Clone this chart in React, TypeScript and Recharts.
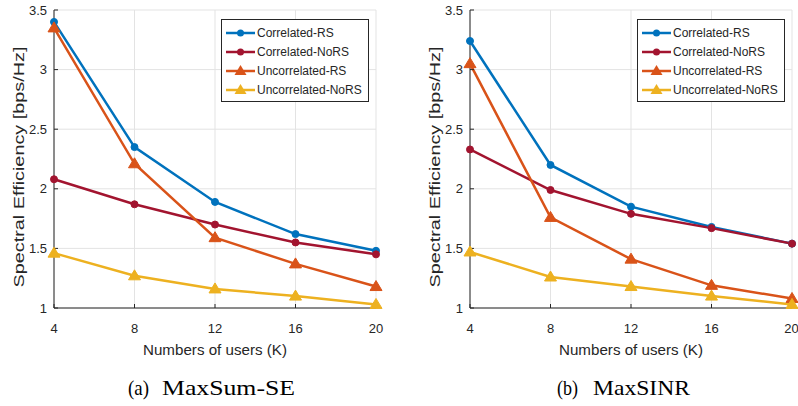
import React from 'react';
import { LineChart, Line, XAxis, YAxis, CartesianGrid } from 'recharts';

const users = [4, 8, 12, 16, 20];
const yTicks = [1, 1.5, 2, 2.5, 3, 3.5];

// (a) MaxSum-SE
const sumCorrRS = [3.4, 2.35, 1.89, 1.62, 1.48];
const sumCorrNoRS = [2.08, 1.87, 1.7, 1.55, 1.45];
const sumUncorrRS = [3.35, 2.21, 1.59, 1.37, 1.18];
const sumUncorrNoRS = [1.46, 1.27, 1.16, 1.1, 1.03];

// (b) MaxSINR
const sinrCorrRS = [3.24, 2.2, 1.85, 1.68, 1.54];
const sinrCorrNoRS = [2.33, 1.99, 1.79, 1.67, 1.54];
const sinrUncorrRS = [3.05, 1.76, 1.41, 1.19, 1.08];
const sinrUncorrNoRS = [1.47, 1.26, 1.18, 1.1, 1.03];

const seriesInfo = [
  { key: 'corrRS', name: 'Correlated-RS', color: '#0072BD', marker: 'dot' },
  { key: 'corrNoRS', name: 'Correlated-NoRS', color: '#A2142F', marker: 'dot' },
  { key: 'uncorrRS', name: 'Uncorrelated-RS', color: '#D95319', marker: 'tri' },
  { key: 'uncorrNoRS', name: 'Uncorrelated-NoRS', color: '#EDB120', marker: 'tri' },
];

const FONT = '"Liberation Sans", Arial, sans-serif';
const SERIF = '"Liberation Serif", "Times New Roman", serif';
const TEXT = '#262626';
const AXIS = '#262626';

const buildData = (a: number[], b: number[], c: number[], d: number[]) =>
  users.map((k, i) => ({ k, corrRS: a[i], corrNoRS: b[i], uncorrRS: c[i], uncorrNoRS: d[i] }));

const sumData = buildData(sumCorrRS, sumCorrNoRS, sumUncorrRS, sumUncorrNoRS);
const sinrData = buildData(sinrCorrRS, sinrCorrNoRS, sinrUncorrRS, sinrUncorrNoRS);

const marker = (type: string, color: string) => (props: any) => {
  const { cx, cy, index } = props;
  if (cx == null || cy == null) return <g key={`m-${index}`} />;
  if (type === 'tri') {
    return (
      <path
        key={`m-${index}`}
        d={`M${cx},${cy - 6} L${cx + 6},${cy + 4} L${cx - 6},${cy + 4} Z`}
        fill={color}
        stroke={color}
        strokeWidth={1}
      />
    );
  }
  return <circle key={`m-${index}`} cx={cx} cy={cy} r={3.5} fill={color} stroke={color} />;
};

const LegendBox = ({ left }: { left: number }) => (
  <div
    style={{
      position: 'absolute',
      top: 19,
      left,
      width: 140,
      border: `1px solid ${AXIS}`,
      background: '#fff',
      padding: '3px 3px 2px 3px',
      fontFamily: FONT,
      fontSize: 12,
      color: TEXT,
    }}
  >
    {seriesInfo.map((s) => (
      <div key={s.key} style={{ display: 'flex', alignItems: 'center', height: 19 }}>
        <svg width={31} height={14} style={{ marginRight: 1 }}>
          <line x1={1} y1={7} x2={30} y2={7} stroke={s.color} strokeWidth={2.5} />
          {s.marker === 'tri' ? (
            <path d="M15.5,1 L21.5,11 L9.5,11 Z" fill={s.color} />
          ) : (
            <circle cx={15.5} cy={7} r={3.5} fill={s.color} />
          )}
        </svg>
        <span>{s.name}</span>
      </div>
    ))}
  </div>
);

const YLabel = () => {
  const x = 19;
  const y = 167;
  return (
    <text
      x={x}
      y={y}
      transform={`rotate(-90, ${x}, ${y})`}
      textAnchor="middle"
      dominantBaseline="central"
      fill={TEXT}
      fontSize={14}
      fontFamily={FONT}
      textLength={241}
      lengthAdjust="spacingAndGlyphs"
    >
      Spectral Efficiency [bps/Hz]
    </text>
  );
};

const XLabel = (props: any) => {
  const { viewBox } = props;
  const x = viewBox.x + viewBox.width / 2;
  return (
    <text
      x={x}
      y={349}
      textAnchor="middle"
      dominantBaseline="central"
      fill={TEXT}
      fontSize={15}
      fontFamily={FONT}
      textLength={144}
      lengthAdjust="spacingAndGlyphs"
    >
      Numbers of users (K)
    </text>
  );
};

type PanelProps = {
  data: any[];
  left: number;
  width: number;
  rightMargin: number;
  tag: string;
  title: string;
  tagX: number;
  titleX: number;
  titleLen: number;
};

const Panel = ({ data, left, width, rightMargin, tag, title, tagX, titleX, titleLen }: PanelProps) => (
  <div style={{ position: 'absolute', left, top: 0, width, height: 406 }}>
    <LineChart width={width} height={370} data={data} margin={{ top: 10, right: rightMargin, left: 0, bottom: 0 }}>
      <CartesianGrid stroke="#e3e3e3" strokeWidth={1} />
      <XAxis
        dataKey="k"
        type="number"
        domain={[4, 20]}
        ticks={users}
        height={62}
        tickSize={-4}
        tickMargin={20}
        tickLine={{ stroke: AXIS }}
        axisLine={{ stroke: AXIS }}
        tick={{ fill: TEXT, fontSize: 13, fontFamily: FONT }}
        label={<XLabel />}
      />
      <XAxis
        xAxisId="top"
        orientation="top"
        dataKey="k"
        type="number"
        domain={[4, 20]}
        ticks={users}
        height={0}
        tick={false}
        tickSize={-4}
        tickLine={{ stroke: AXIS }}
        axisLine={{ stroke: AXIS }}
      />
      <YAxis
        type="number"
        domain={[1, 3.5]}
        ticks={yTicks}
        width={54}
        tickSize={-4}
        tickMargin={11}
        tickLine={{ stroke: AXIS }}
        axisLine={{ stroke: AXIS }}
        tick={{ fill: TEXT, fontSize: 13, fontFamily: FONT }}
        label={<YLabel />}
      />
      <YAxis
        yAxisId="r"
        orientation="right"
        type="number"
        domain={[1, 3.5]}
        ticks={yTicks}
        width={0}
        tick={false}
        tickSize={-4}
        tickLine={{ stroke: AXIS }}
        axisLine={{ stroke: AXIS }}
      />
      {seriesInfo.map((s) => (
        <Line
          key={s.key}
          dataKey={s.key}
          name={s.name}
          stroke={s.color}
          strokeWidth={2.5}
          dot={marker(s.marker, s.color)}
          activeDot={false}
          isAnimationActive={false}
        />
      ))}
    </LineChart>
    <LegendBox left={221} />
    <svg style={{ position: 'absolute', left: 0, top: 370 }} width={width} height={36}>
      <text x={tagX} y={25} fontFamily={SERIF} fontSize={21} fill="#000" textLength={21} lengthAdjust="spacingAndGlyphs">
        {tag}
      </text>
      <text
        x={titleX}
        y={25}
        fontFamily={SERIF}
        fontSize={21}
        fill="#000"
        textLength={titleLen}
        lengthAdjust="spacingAndGlyphs"
      >
        {title}
      </text>
    </svg>
  </div>
);

const App = () => (
  <div style={{ position: 'absolute', left: 0, top: 0, width: 798, height: 406, background: '#fff', overflow: 'hidden' }}>
    <Panel data={sumData} left={0} width={399} rightMargin={23} tag="(a)" title="MaxSum-SE" tagX={128} titleX={162} titleLen={133} />
    <Panel data={sinrData} left={416} width={382} rightMargin={6} tag="(b)" title="MaxSINR" tagX={141} titleX={177} titleLen={97} />
  </div>
);

export default App;
